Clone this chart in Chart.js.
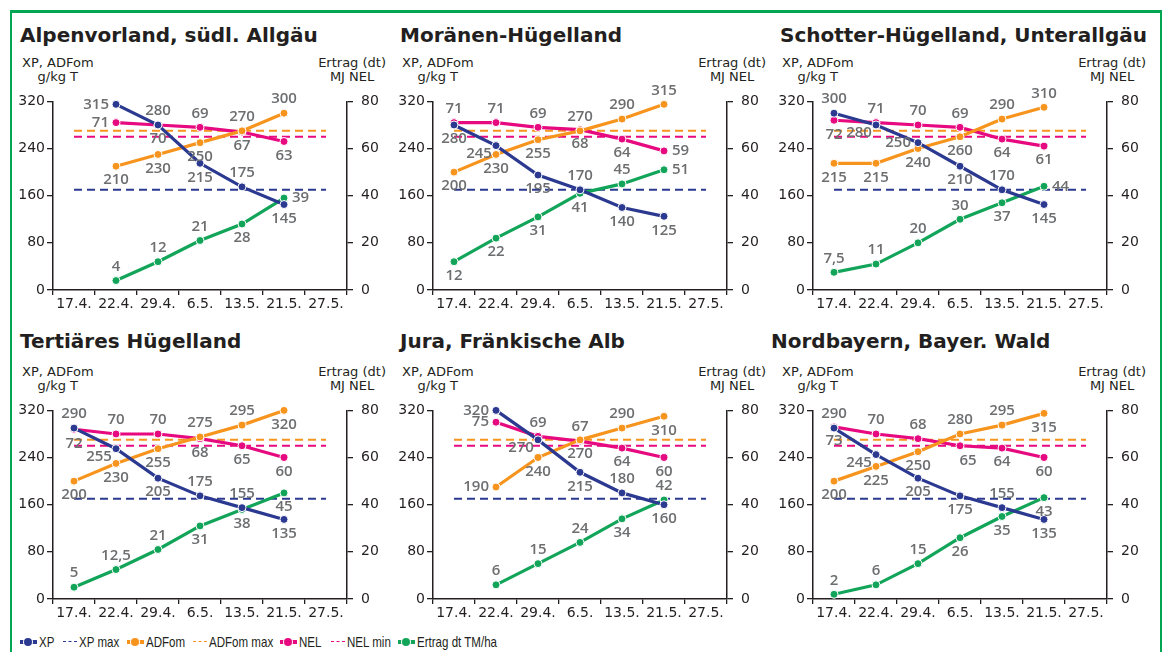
<!DOCTYPE html>
<html>
<head>
<meta charset="utf-8">
<script src="https://cdn.jsdelivr.net/npm/chart.js@4.4.1/dist/chart.umd.min.js"></script>
<style>
body { margin: 0; background: #fff; }
#wrap { position: relative; width: 1166px; height: 652px; overflow: hidden; background: #fff; }
.fr { position: absolute; background: #00a651; }
.ttl { position: absolute; font: 700 20px "DejaVu Sans", sans-serif; color: #231f20; white-space: nowrap; }
.axt { position: absolute; font: 13px "DejaVu Sans", sans-serif; color: #231f20; text-align: center; line-height: 14px; white-space: nowrap; }
canvas { position: absolute; }
.lg { position: absolute; top: 633px; height: 18px; }
.lg .mk { position: absolute; top: 4px; width: 16px; height: 10px; }
.lg .tx { position: absolute; top: 0; font: 15px "Liberation Sans", Arial, sans-serif; line-height: 18px; color: #231f20;
  white-space: nowrap; transform: scaleX(0.77); transform-origin: 0 50%; }
</style>
</head>
<body>
<div id="wrap">
  <div class="fr" style="left:10px;top:10px;width:1152px;height:3px"></div>
  <div class="fr" style="left:10px;top:10px;width:2px;height:642px"></div>
  <div class="fr" style="left:1160px;top:10px;width:2px;height:642px"></div>
</div>
<script>
const dates = ["17.4.", "22.4.", "29.4.", "6.5.", "13.5.", "21.5.", "27.5."];

// Grenzwerte
const xpMax = 170;
const adfMax = 270;
const nelMin = 65;

// Alpenvorland, südl. Allgäu
const xpAlpen = [null, 315, 280, 215, 175, 145, null];
const adfAlpen = [null, 210, 230, 250, 270, 300, null];
const nelAlpen = [null, 71, 70, 69, 67, 63, null];
const ertAlpen = [null, 4, 12, 21, 28, 39, null];

// Moränen-Hügelland
const xpMoraene = [280, 245, 195, 170, 140, 125, null];
const adfMoraene = [200, 230, 255, 270, 290, 315, null];
const nelMoraene = [71, 71, 69, 68, 64, 59, null];
const ertMoraene = [12, 22, 31, 41, 45, 51, null];

// Schotter-Hügelland, Unterallgäu
const xpSchotter = [300, 280, 250, 210, 170, 145, null];
const adfSchotter = [215, 215, 240, 260, 290, 310, null];
const nelSchotter = [72, 71, 70, 69, 64, 61, null];
const ertSchotter = [7.5, 11, 20, 30, 37, 44, null];

// Tertiäres Hügelland
const xpTertiaer = [290, 255, 205, 175, 155, 135, null];
const adfTertiaer = [200, 230, 255, 275, 295, 320, null];
const nelTertiaer = [72, 70, 70, 68, 65, 60, null];
const ertTertiaer = [5, 12.5, 21, 31, 38, 45, null];

// Jura, Fränkische Alb
const xpJura = [null, 320, 270, 215, 180, 160, null];
const adfJura = [null, 190, 240, 270, 290, 310, null];
const nelJura = [null, 75, 69, 67, 64, 60, null];
const ertJura = [null, 6, 15, 24, 34, 42, null];

// Nordbayern, Bayer. Wald
const xpNord = [290, 245, 205, 175, 155, 135, null];
const adfNord = [200, 225, 250, 280, 295, 315, null];
const nelNord = [73, 70, 68, 65, 64, 60, null];
const ertNord = [2, 6, 15, 26, 35, 43, null];

const navy = "#2b3990", orange = "#f7941d", pink = "#e6097f", green = "#12a55a";

// label placement: a above, b below, l left, r right, w below-left, e below-right
const panels = [
  { title: "Alpenvorland, südl. Allgäu", col: 0, row: 0, tx: 20,
    xp: xpAlpen, adf: adfAlpen, nel: nelAlpen, ert: ertAlpen,
    pos: ["-labab-", "-bbbaa-", "-lbabb-", "-aaabr-"] },
  { title: "Moränen-Hügelland", col: 1, row: 0, tx: 20,
    xp: xpMoraene, adf: adfMoraene, nel: nelMoraene, ert: ertMoraene,
    pos: ["bwbabb-", "bbbaaa-", "aaabbr-", "bbbbar-"] },
  { title: "Schotter-Hügelland, Unterallgäu", col: 2, row: 0, tx: 20,
    xp: xpSchotter, adf: adfSchotter, nel: nelSchotter, ert: ertSchotter,
    pos: ["awlbab-", "bbbbaa-", "baaabb-", "aaaabr-"] },
  { title: "Tertiäres Hügelland", col: 0, row: 1, tx: 20,
    xp: xpTertiaer, adf: adfTertiaer, nel: nelTertiaer, ert: ertTertiaer,
    pos: ["awbaab-", "bbbaab-", "baabbb-", "aaabbb-"] },
  { title: "Jura, Fränkische Alb", col: 1, row: 1, tx: 20,
    xp: xpJura, adf: adfJura, nel: nelJura, ert: ertJura,
    pos: ["-lwbab-", "-lbbab-", "-laabb-", "-aaaba-"] },
  { title: "Nordbayern, Bayer. Wald", col: 2, row: 1, tx: 11,
    xp: xpNord, adf: adfNord, nel: nelNord, ert: ertNord,
    pos: ["awbbab-", "bbbaab-", "baaebb-", "aaabbb-"] }
];

const legendItems = [
  { text: "XP", color: navy, dash: false },
  { text: "XP max", color: navy, dash: true },
  { text: "ADFom", color: orange, dash: false },
  { text: "ADFom max", color: orange, dash: true },
  { text: "NEL", color: pink, dash: false },
  { text: "NEL min", color: pink, dash: true },
  { text: "Ertrag dt TM/ha", color: green, dash: false }
];
const legendX = [20, 63, 127, 193, 280, 331, 398];

const valueLabels = {
  id: "valueLabels",
  afterDatasetsDraw(chart) {
    const ctx = chart.ctx;
    ctx.save();
    ctx.font = "600 15px 'Open Sans', sans-serif";
    ctx.fillStyle = "#6d6e70";
    ctx.textBaseline = "middle";
    chart.data.datasets.forEach((ds, i) => {
      if (!ds.lbl) return;
      const meta = chart.getDatasetMeta(i);
      meta.data.forEach((pt, j) => {
        const v = ds.data[j];
        if (v == null) return;
        const p = ds.lbl[j];
        let x = pt.x, y = pt.y;
        ctx.textAlign = "center";
        if (p == "a") y -= 14;
        else if (p == "b") y += 14;
        else if (p == "l") { ctx.textAlign = "right"; x -= 7; }
        else if (p == "r") { ctx.textAlign = "left"; x += 8; }
        else if (p == "w") { x -= 17; y += 8; }
        else if (p == "e") { x += 8; y += 15; }
        ctx.fillText(String(v).replace(".", ","), x, y);
      });
    });
    ctx.restore();
  }
};

function line(label, data, color, axis, lbl) {
  return {
    label: label, data: data, yAxisID: axis, lbl: lbl,
    borderColor: color, backgroundColor: color, borderWidth: 3.2,
    pointRadius: 4, pointBorderWidth: 1, pointBorderColor: "#fff",
    pointBackgroundColor: color, clip: false, order: 1
  };
}

function limit(label, value, color, axis) {
  return {
    label: label, data: dates.map(() => value), yAxisID: axis,
    borderColor: color, borderWidth: 2, borderDash: [8, 5],
    pointRadius: 0, order: 2
  };
}

const wrap = document.getElementById("wrap");

panels.forEach(p => {
  const left = p.col * 380;
  const top = p.row * 309;

  const t = document.createElement("div");
  t.className = "ttl";
  t.style.left = (left + p.tx) + "px";
  t.style.top = (top + (p.row ? 20 : 23)) + "px";
  t.textContent = p.title;
  wrap.appendChild(t);

  const al = document.createElement("div");
  al.className = "axt";
  al.style.left = (left + 22) + "px";
  al.style.top = (top + 56) + "px";
  al.innerHTML = "XP, ADFom<br>g/kg T";
  wrap.appendChild(al);

  const ar = document.createElement("div");
  ar.className = "axt";
  ar.style.right = (1166 - left - 386) + "px";
  ar.style.top = (top + 56) + "px";
  ar.innerHTML = "Ertrag (dt)<br>MJ NEL";
  wrap.appendChild(ar);

  const cv = document.createElement("canvas");
  cv.width = 380;
  cv.height = 235;
  cv.style.left = left + "px";
  cv.style.top = (top + 85) + "px";
  wrap.appendChild(cv);

  const tickFont = { family: "'DejaVu Sans', sans-serif", size: 14 };

  new Chart(cv, {
    type: "line",
    data: {
      labels: dates,
      datasets: [
        line("XP", p.xp, navy, "y", p.pos[0]),
        line("ADFom", p.adf, orange, "y", p.pos[1]),
        line("NEL", p.nel, pink, "y2", p.pos[2]),
        line("Ertrag dt TM/ha", p.ert, green, "y2", p.pos[3]),
        limit("XP max", xpMax, navy, "y"),
        limit("ADFom max", adfMax, orange, "y"),
        limit("NEL min", nelMin, pink, "y2")
      ]
    },
    options: {
      responsive: false,
      animation: false,
      layout: { padding: { top: 10, left: 0, right: 0, bottom: 0 } },
      plugins: { legend: { display: false }, tooltip: { enabled: false } },
      scales: {
        x: {
          offset: true,
          grid: { offset: true, drawOnChartArea: false, tickLength: 5, color: "#231f20", lineWidth: 1.3 },
          border: { color: "#231f20", width: 1.5 },
          ticks: { color: "#231f20", font: tickFont, padding: 1, maxRotation: 0, autoSkip: false },
          afterFit(s) { s.height = 30; }
        },
        y: {
          position: "left", min: 0, max: 320,
          grid: { drawOnChartArea: false, tickLength: 6, color: "#231f20", lineWidth: 1.3 },
          border: { color: "#231f20", width: 1.5 },
          ticks: { stepSize: 80, color: "#231f20", font: tickFont, padding: 2 },
          afterFit(s) { s.width = 53; }
        },
        y2: {
          position: "right", min: 0, max: 80,
          grid: { drawOnChartArea: false, tickLength: 6, color: "#231f20", lineWidth: 1.3 },
          border: { color: "#231f20", width: 1.5 },
          ticks: { stepSize: 20, color: "#231f20", font: tickFont, padding: 8 },
          afterFit(s) { s.width = 33; }
        }
      }
    },
    plugins: [valueLabels]
  });
});

// Legende
legendItems.forEach((it, i) => {
  const d = document.createElement("div");
  d.className = "lg";
  d.style.left = legendX[i] + "px";
  let mk;
  if (it.dash) {
    mk = '<span class="mk" style="left:0"><span style="position:absolute;left:0;top:4px;width:14px;border-top:1.5px dashed ' + it.color + '"></span></span>';
  } else {
    mk = '<span class="mk" style="left:0"><span style="position:absolute;left:0;top:3px;width:17px;height:4px;background:' + it.color + '"></span>' +
      '<span style="position:absolute;left:4px;top:1px;width:8px;height:8px;border-radius:50%;background:' + it.color + ';box-shadow:0 0 0 1px #fff"></span></span>';
  }
  d.innerHTML = mk + '<span class="tx" style="left:' + (it.dash ? 16 : 19) + 'px">' + it.text + '</span>';
  wrap.appendChild(d);
});
</script>
</body>
</html>
